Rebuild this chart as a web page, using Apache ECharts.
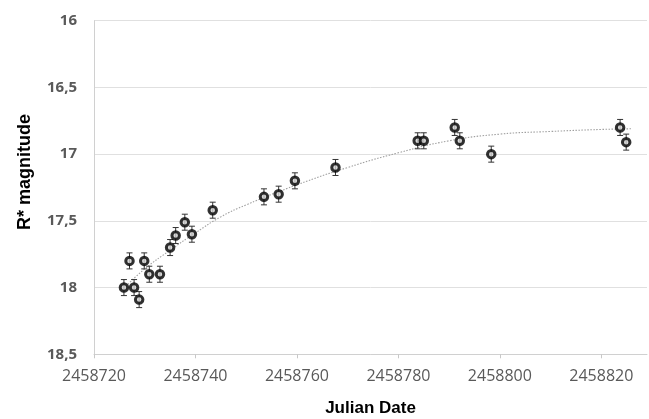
<!DOCTYPE html>
<html>
<head>
<meta charset="utf-8">
<style>
html,body{margin:0;padding:0;background:#fff;}
#chart{width:649px;height:419px;}
</style>
<script src="https://cdn.jsdelivr.net/npm/echarts@6/dist/echarts.min.js"></script>
</head>
<body>
<div id="chart"></div>
<script>
// Observation dates (Julian Date)
var julianDates = [2458725.9, 2458727.0, 2458727.9, 2458728.9, 2458729.9, 2458730.9, 2458733.0,
  2458735.0, 2458736.1, 2458737.9, 2458739.3, 2458743.4, 2458753.5, 2458756.4, 2458759.6,
  2458767.6, 2458783.8, 2458785.0, 2458791.1, 2458792.1, 2458798.3, 2458823.7, 2458824.9];
// R* magnitudes
var magnitudes = [18.00, 17.80, 18.00, 18.09, 17.80, 17.90, 17.90,
  17.70, 17.61, 17.51, 17.60, 17.42, 17.32, 17.30, 17.20,
  17.10, 16.90, 16.90, 16.80, 16.90, 17.00, 16.80, 16.91];
// Error bar half-widths
var magErrors = [0.06, 0.06, 0.06, 0.06, 0.06, 0.06, 0.06,
  0.06, 0.06, 0.06, 0.06, 0.06, 0.06, 0.06, 0.06,
  0.06, 0.06, 0.06, 0.06, 0.06, 0.06, 0.06, 0.06];
// Trend line points
var trendDates = [2458726.3, 2458730, 2458735, 2458740, 2458745, 2458750, 2458760, 2458770,
  2458780, 2458790, 2458800, 2458810, 2458820, 2458826];
var trendMags = [17.99, 17.86, 17.72, 17.59, 17.47, 17.38, 17.23, 17.10,
  16.99, 16.90, 16.85, 16.83, 16.815, 16.81];
// Axis ticks
var yTicks = [16, 16.5, 17, 17.5, 18, 18.5];
var xMin = 2458720, xMax = 2458829, xInterval = 20;

var points = julianDates.map(function (d, i) { return [d, magnitudes[i]]; });
var errors = julianDates.map(function (d, i) { return [d, magnitudes[i] - magErrors[i], magnitudes[i] + magErrors[i]]; });
var trend = trendDates.map(function (d, i) { return [d, trendMags[i]]; });

var chart = echarts.init(document.getElementById('chart'), null, {renderer: 'canvas'});
chart.setOption({
  animation: false,
  backgroundColor: '#fff',
  grid: {left: 94, right: 2, top: 20.7, bottom: 64.7, containLabel: false, outerBoundsMode: 'none'},
  graphic: [{
    type: 'text', x: 25, y: 172, rotation: Math.PI / 2,
    style: {text: 'R* magnitude', fontFamily: 'Liberation Sans', fontWeight: 'bold', fontSize: 18,
      fill: '#000', align: 'center', verticalAlign: 'middle'}
  }],
  xAxis: {
    type: 'value', min: xMin, max: xMax, interval: xInterval,
    name: 'Julian Date', nameLocation: 'middle', nameGap: 46,
    nameTextStyle: {fontFamily: 'Liberation Sans', fontWeight: 'bold', fontSize: 17, color: '#000'},
    axisLine: {show: true, lineStyle: {color: '#d0d0d0', width: 1}},
    axisTick: {show: true, length: 4, lineStyle: {color: '#c8c8c8'}},
    axisLabel: {showMaxLabel: false, margin: 14, fontFamily: 'Open Sans', fontSize: 16, color: '#595959',
      formatter: function (v) { return String(Math.round(v)); }},
    splitLine: {show: false}
  },
  yAxis: {
    type: 'value', inverse: true, min: yTicks[0], max: yTicks[yTicks.length - 1], interval: 0.5,
    axisLine: {show: true, lineStyle: {color: '#d0d0d0', width: 1}},
    axisTick: {show: false},
    axisLabel: {margin: 17, fontFamily: 'Open Sans', fontWeight: 'bold', fontSize: 15, color: '#595959',
      formatter: function (v) { return String(v).replace('.', ','); }},
    splitLine: {show: true, lineStyle: {color: '#e0e0e0', width: 1}}
  },
  series: [
    {
      type: 'line', data: trend, smooth: true, showSymbol: false, symbol: 'none', z: 2,
      lineStyle: {color: '#a0a0a0', width: 1.1, type: [1.5, 1.5]}
    },
    {
      type: 'custom', z: 3, data: errors,
      renderItem: function (params, api) {
        var x = api.value(0);
        var top = api.coord([x, api.value(1)]);
        var bot = api.coord([x, api.value(2)]);
        var cap = 3;
        var st = {stroke: '#333', lineWidth: 1};
        return {type: 'group', children: [
          {type: 'line', shape: {x1: top[0], y1: top[1], x2: bot[0], y2: bot[1]}, style: st},
          {type: 'line', shape: {x1: top[0] - cap, y1: top[1], x2: top[0] + cap, y2: top[1]}, style: st},
          {type: 'line', shape: {x1: bot[0] - cap, y1: bot[1], x2: bot[0] + cap, y2: bot[1]}, style: st}
        ]};
      }
    },
    {
      type: 'scatter', data: points, z: 4, symbol: 'circle', symbolSize: 7.5,
      itemStyle: {color: '#cfcfcf', borderColor: '#000', borderWidth: 3}
    }
  ]
});
</script>
</body>
</html>
